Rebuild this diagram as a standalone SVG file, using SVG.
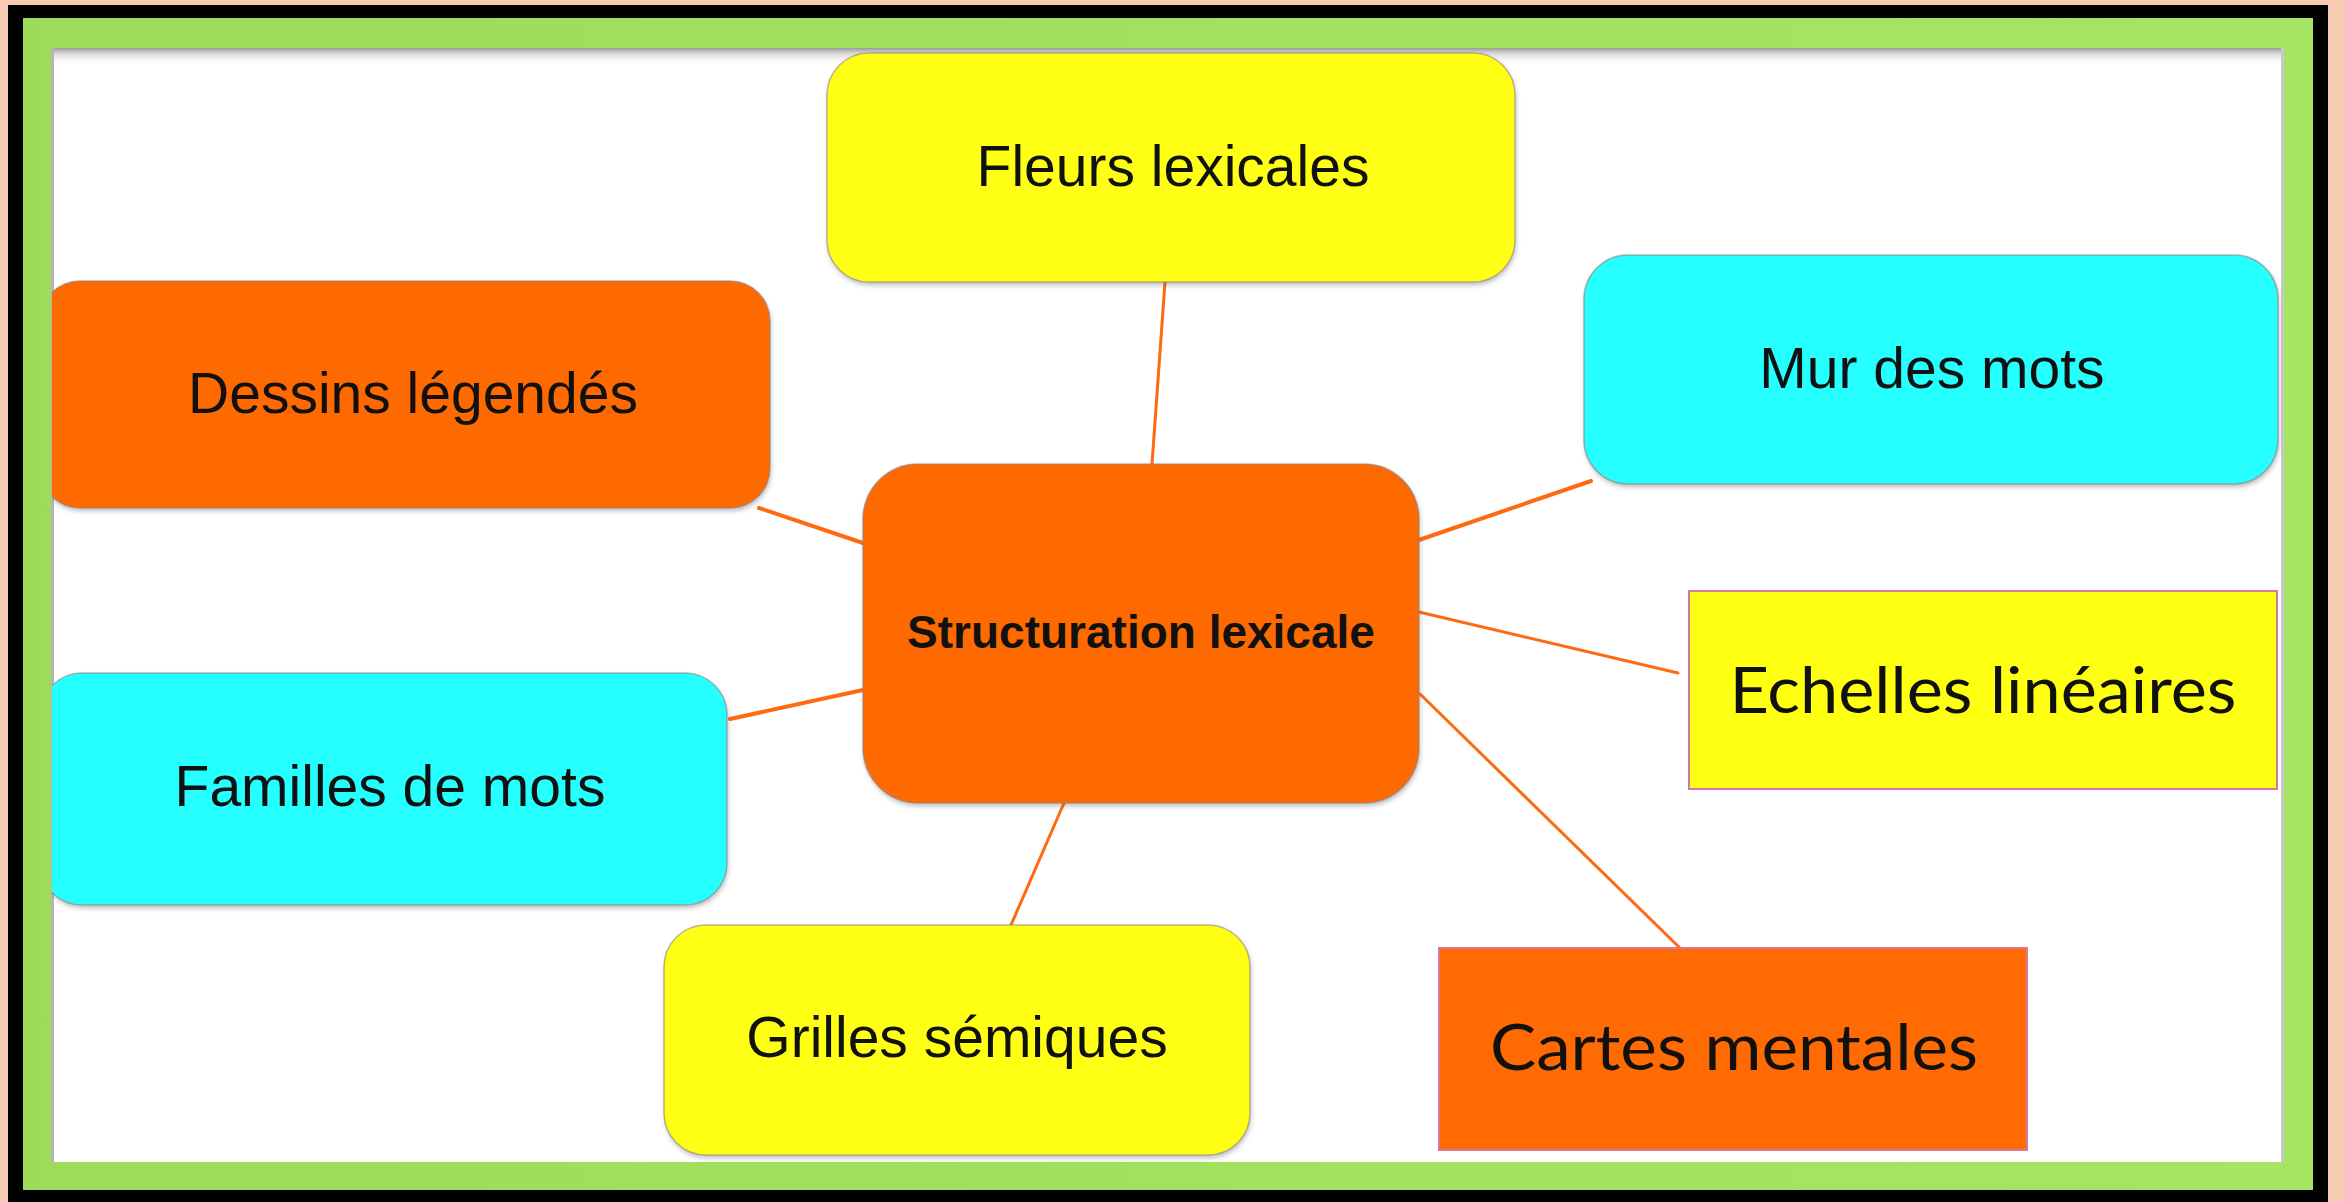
<svg xmlns="http://www.w3.org/2000/svg" width="2343" height="1202" viewBox="0 0 2343 1202">
<defs>
<style>
.arial{font-family:"Liberation Sans",Arial,sans-serif;fill:#111;text-anchor:middle}
.futura{font-family:Lato,"Liberation Sans",sans-serif;fill:#111;text-anchor:middle}
.round{stroke:#8a7a7a;stroke-opacity:0.55;stroke-width:1.5}
.sq{stroke:#d8789a;stroke-width:2}
.orange{fill:#FF6B02}
.yellow{fill:#FFFF12}
.cyan{fill:#27FFFF}
.conn line{stroke:#FF6A10;stroke-linecap:round}
</style>
<linearGradient id="bevelTop" x1="0" y1="0" x2="0" y2="1">
<stop offset="0" stop-color="#9a9a9a"/>
<stop offset="0.25" stop-color="#cfcfcf"/>
<stop offset="1" stop-color="#ffffff" stop-opacity="0"/>
</linearGradient>
<linearGradient id="greenGrad" x1="0" y1="0" x2="1" y2="0">
<stop offset="0" stop-color="#9DDB58"/>
<stop offset="0.5" stop-color="#A3E05E"/>
<stop offset="1" stop-color="#A6E463"/>
</linearGradient>
<filter id="sh" x="-5%" y="-5%" width="110%" height="115%">
<feDropShadow dx="1" dy="3" stdDeviation="2" flood-color="#555" flood-opacity="0.35"/>
</filter>
<clipPath id="inner">
<rect x="52" y="48" width="2232" height="1114"/>
</clipPath>
</defs>

<g id="frame">
<rect x="0" y="0" width="2343" height="1202" fill="#F7CDB1"/>
<rect x="8" y="5" width="2320" height="1197" fill="#000"/>
<rect x="23" y="18" width="2290" height="1172" fill="url(#greenGrad)"/>
<rect x="51" y="48" width="2233" height="1114" fill="#fff"/>
<rect x="51" y="48" width="2233" height="18" fill="url(#bevelTop)"/>
<rect x="51" y="48" width="3" height="1114" fill="#b5b5b5"/>
<rect x="2281" y="48" width="3" height="1114" fill="#c8c8c8"/>
</g>

<g id="connectors" class="conn">
<line x1="1165" y1="282" x2="1152" y2="464" stroke-width="3"/>
<line x1="759" y1="508" x2="863" y2="543" stroke-width="4"/>
<line x1="863" y1="690" x2="730" y2="719" stroke-width="4"/>
<line x1="1419" y1="540" x2="1591" y2="481" stroke-width="4"/>
<line x1="1419" y1="612" x2="1678" y2="673" stroke-width="3"/>
<line x1="1420" y1="694" x2="1681" y2="949" stroke-width="3"/>
<line x1="1064" y1="803" x2="1011" y2="925" stroke-width="3"/>
</g>

<g id="node-center">
<rect x="863" y="464" width="556" height="339" rx="55" ry="55" class="orange round" filter="url(#sh)"/>
<text x="1141" y="648" class="arial" font-size="46" font-weight="bold">Structuration lexicale</text>
</g>

<g id="node-fleurs">
<rect x="827" y="53" width="688" height="229" rx="42" ry="42" class="yellow round" filter="url(#sh)"/>
<text x="1173" y="186" class="arial" font-size="57">Fleurs lexicales</text>
</g>

<g id="node-dessins">
<rect x="40" y="281" width="730" height="227" rx="40" ry="40" class="orange round" filter="url(#sh)" stroke="#7a4a8a" clip-path="url(#inner)"/>
<text x="413" y="413" class="arial" font-size="57">Dessins légendés</text>
</g>

<g id="node-mur">
<rect x="1584" y="255" width="694" height="229" rx="44" ry="44" class="cyan round" filter="url(#sh)"/>
<text x="1932" y="388" class="arial" font-size="57">Mur des mots</text>
</g>

<g id="node-familles">
<rect x="40" y="673" width="687" height="232" rx="42" ry="42" class="cyan round" filter="url(#sh)" clip-path="url(#inner)"/>
<text x="390" y="806" class="arial" font-size="57">Familles de mots</text>
</g>

<g id="node-grilles">
<rect x="664" y="925" width="586" height="230" rx="42" ry="42" class="yellow round" filter="url(#sh)"/>
<text x="957" y="1057" class="arial" font-size="57">Grilles sémiques</text>
</g>

<g id="node-echelles">
<rect x="1689" y="591" width="588" height="198" class="yellow sq"/>
<text x="1983" y="713" class="futura" font-size="64" textLength="507" lengthAdjust="spacingAndGlyphs">Echelles linéaires</text>
</g>

<g id="node-cartes">
<rect x="1439" y="948" width="588" height="202" class="orange sq"/>
<text x="1734" y="1070" class="futura" font-size="64" textLength="488" lengthAdjust="spacingAndGlyphs">Cartes mentales</text>
</g>
</svg>
